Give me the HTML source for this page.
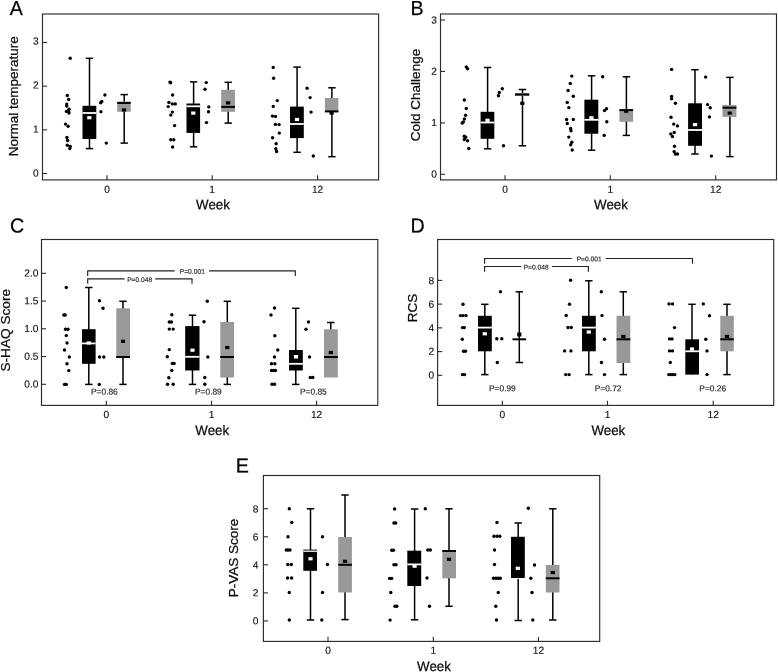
<!DOCTYPE html>
<html><head><meta charset="utf-8"><title>Figure</title>
<style>
html,body{margin:0;padding:0;background:#fff;}
body{width:778px;height:672px;overflow:hidden;}
svg{display:block;font-family:"Liberation Sans", sans-serif;will-change:transform;}
svg text{stroke:#111;stroke-width:0.25px;}
</style></head>
<body>
<svg width="778" height="672" viewBox="0 0 778 672">
<rect width="778" height="672" fill="#fff"/>
<text transform="translate(9.80,15.00) rotate(0.03) scale(0.97,1)" font-size="20.3" text-anchor="start" fill="#000">A</text>
<rect x="42.5" y="14.0" width="336.10" height="165.90" fill="none" stroke="#2b2b2b" stroke-width="1.15"/>
<line x1="42.5" y1="42.45" x2="47.1" y2="42.45" stroke="#2b2b2b" stroke-width="1.1"/>
<text transform="translate(35.95,44.50) rotate(0.03) scale(1.0,1)" font-size="10.2" text-anchor="middle" fill="#0a0a0a" style="stroke-width:0.12px">3</text>
<line x1="42.5" y1="86.15" x2="47.1" y2="86.15" stroke="#2b2b2b" stroke-width="1.1"/>
<text transform="translate(35.95,88.50) rotate(0.03) scale(1.0,1)" font-size="10.2" text-anchor="middle" fill="#0a0a0a" style="stroke-width:0.12px">2</text>
<line x1="42.5" y1="129.85" x2="47.1" y2="129.85" stroke="#2b2b2b" stroke-width="1.1"/>
<text transform="translate(35.95,132.60) rotate(0.03) scale(1.0,1)" font-size="10.2" text-anchor="middle" fill="#0a0a0a" style="stroke-width:0.12px">1</text>
<line x1="42.5" y1="173.5" x2="47.1" y2="173.5" stroke="#2b2b2b" stroke-width="1.1"/>
<text transform="translate(35.95,176.60) rotate(0.03) scale(1.0,1)" font-size="10.2" text-anchor="middle" fill="#0a0a0a" style="stroke-width:0.12px">0</text>
<line x1="107.0" y1="179.9" x2="107.0" y2="175.3" stroke="#2b2b2b" stroke-width="1.1"/>
<text transform="translate(107.00,192.70) rotate(0.03) scale(1.0,1)" font-size="10.2" text-anchor="middle" fill="#0a0a0a" style="stroke-width:0.12px">0</text>
<line x1="212.2" y1="179.9" x2="212.2" y2="175.3" stroke="#2b2b2b" stroke-width="1.1"/>
<text transform="translate(212.20,192.70) rotate(0.03) scale(1.0,1)" font-size="10.2" text-anchor="middle" fill="#0a0a0a" style="stroke-width:0.12px">1</text>
<line x1="317.6" y1="179.9" x2="317.6" y2="175.3" stroke="#2b2b2b" stroke-width="1.1"/>
<text transform="translate(317.60,192.70) rotate(0.03) scale(1.0,1)" font-size="10.2" text-anchor="middle" fill="#0a0a0a" style="stroke-width:0.12px">12</text>
<text transform="translate(13.2,96.2) rotate(-90)" font-size="13.5" text-anchor="middle" fill="#0a0a0a" y="4.86">Normal temperature</text>
<text transform="translate(213.00,209.30) rotate(0.03) scale(0.965,1)" font-size="13.8" text-anchor="middle" fill="#0a0a0a">Week</text>
<circle cx="70.2" cy="58.2" r="1.7" fill="#000"/>
<circle cx="67.3" cy="95.5" r="1.7" fill="#000"/>
<circle cx="68.6" cy="99.5" r="1.7" fill="#000"/>
<circle cx="66.7" cy="104.1" r="1.7" fill="#000"/>
<circle cx="66.7" cy="106.1" r="1.7" fill="#000"/>
<circle cx="69" cy="109.2" r="1.7" fill="#000"/>
<circle cx="66.4" cy="111.4" r="1.7" fill="#000"/>
<circle cx="68.6" cy="111.4" r="1.7" fill="#000"/>
<circle cx="69" cy="113" r="1.7" fill="#000"/>
<circle cx="65.5" cy="124.1" r="1.7" fill="#000"/>
<circle cx="68.1" cy="126.3" r="1.7" fill="#000"/>
<circle cx="66.9" cy="137.5" r="1.7" fill="#000"/>
<circle cx="67.6" cy="140.5" r="1.7" fill="#000"/>
<circle cx="67.3" cy="145.2" r="1.7" fill="#000"/>
<circle cx="70.3" cy="146.4" r="1.7" fill="#000"/>
<circle cx="69.8" cy="148.6" r="1.7" fill="#000"/>
<line x1="89.5" y1="58.3" x2="89.5" y2="148.6" stroke="#000" stroke-width="1.5"/>
<line x1="85.8" y1="58.3" x2="93.2" y2="58.3" stroke="#000" stroke-width="1.5"/>
<line x1="85.8" y1="148.6" x2="93.2" y2="148.6" stroke="#000" stroke-width="1.5"/>
<rect x="82.5" y="105.8" width="13.799999999999997" height="33.2" fill="#000"/>
<line x1="82.5" y1="113" x2="96.3" y2="113" stroke="#fff" stroke-width="1.8"/>
<rect x="87.2" y="116.10000000000001" width="4.2" height="3.2" fill="#fff"/>
<circle cx="104.9" cy="95" r="1.7" fill="#000"/>
<circle cx="101.8" cy="101.4" r="1.7" fill="#000"/>
<circle cx="100.7" cy="102.7" r="1.7" fill="#000"/>
<circle cx="100.9" cy="111.8" r="1.7" fill="#000"/>
<circle cx="106.3" cy="143.1" r="1.7" fill="#000"/>
<line x1="124.2" y1="94.6" x2="124.2" y2="143.1" stroke="#000" stroke-width="1.5"/>
<line x1="120.5" y1="94.6" x2="127.9" y2="94.6" stroke="#000" stroke-width="1.5"/>
<line x1="120.5" y1="143.1" x2="127.9" y2="143.1" stroke="#000" stroke-width="1.5"/>
<rect x="117.2" y="101.5" width="13.499999999999986" height="10.299999999999997" fill="#999999"/>
<line x1="117.2" y1="103" x2="130.7" y2="103" stroke="#000" stroke-width="2.0"/>
<rect x="121.9" y="108.4" width="4.2" height="3.2" fill="#000"/>
<circle cx="169.9" cy="82.1" r="1.7" fill="#000"/>
<circle cx="170.6" cy="82.7" r="1.7" fill="#000"/>
<circle cx="172.6" cy="95" r="1.7" fill="#000"/>
<circle cx="168.9" cy="102.4" r="1.7" fill="#000"/>
<circle cx="172.3" cy="103.9" r="1.7" fill="#000"/>
<circle cx="175.3" cy="103.9" r="1.7" fill="#000"/>
<circle cx="168.2" cy="106.6" r="1.7" fill="#000"/>
<circle cx="172.3" cy="112.1" r="1.7" fill="#000"/>
<circle cx="170.8" cy="115.1" r="1.7" fill="#000"/>
<circle cx="174.6" cy="125.6" r="1.7" fill="#000"/>
<circle cx="170.8" cy="139.8" r="1.7" fill="#000"/>
<circle cx="173.8" cy="139.8" r="1.7" fill="#000"/>
<circle cx="172.6" cy="147" r="1.7" fill="#000"/>
<line x1="193.6" y1="81.9" x2="193.6" y2="146.8" stroke="#000" stroke-width="1.5"/>
<line x1="189.9" y1="81.9" x2="197.29999999999998" y2="81.9" stroke="#000" stroke-width="1.5"/>
<line x1="189.9" y1="146.8" x2="197.29999999999998" y2="146.8" stroke="#000" stroke-width="1.5"/>
<rect x="186.5" y="103.5" width="13.599999999999994" height="29.400000000000006" fill="#000"/>
<line x1="186.5" y1="106.3" x2="200.1" y2="106.3" stroke="#fff" stroke-width="1.8"/>
<rect x="191.20000000000002" y="111.5" width="4.2" height="3.2" fill="#fff"/>
<circle cx="206.3" cy="82.6" r="1.7" fill="#000"/>
<circle cx="205" cy="89.3" r="1.7" fill="#000"/>
<circle cx="208.8" cy="106.9" r="1.7" fill="#000"/>
<circle cx="208.5" cy="111.8" r="1.7" fill="#000"/>
<circle cx="206.5" cy="122.6" r="1.7" fill="#000"/>
<line x1="228.2" y1="82.3" x2="228.2" y2="123.1" stroke="#000" stroke-width="1.5"/>
<line x1="224.5" y1="82.3" x2="231.89999999999998" y2="82.3" stroke="#000" stroke-width="1.5"/>
<line x1="224.5" y1="123.1" x2="231.89999999999998" y2="123.1" stroke="#000" stroke-width="1.5"/>
<rect x="221.2" y="89.8" width="13.800000000000011" height="22.0" fill="#999999"/>
<line x1="221.2" y1="106.9" x2="235" y2="106.9" stroke="#000" stroke-width="2.0"/>
<rect x="226.0" y="101.30000000000001" width="4.2" height="3.2" fill="#000"/>
<circle cx="273.2" cy="67.4" r="1.7" fill="#000"/>
<circle cx="273.6" cy="78.2" r="1.7" fill="#000"/>
<circle cx="277.3" cy="100.6" r="1.7" fill="#000"/>
<circle cx="273.3" cy="106.4" r="1.7" fill="#000"/>
<circle cx="272.4" cy="116.1" r="1.7" fill="#000"/>
<circle cx="275.5" cy="116.4" r="1.7" fill="#000"/>
<circle cx="275.4" cy="124.4" r="1.7" fill="#000"/>
<circle cx="279.1" cy="124.6" r="1.7" fill="#000"/>
<circle cx="279.3" cy="133.1" r="1.7" fill="#000"/>
<circle cx="272.6" cy="137.7" r="1.7" fill="#000"/>
<circle cx="276.1" cy="143.8" r="1.7" fill="#000"/>
<circle cx="275.8" cy="148.8" r="1.7" fill="#000"/>
<circle cx="276.6" cy="151.5" r="1.7" fill="#000"/>
<line x1="297.1" y1="67.1" x2="297.1" y2="152.3" stroke="#000" stroke-width="1.5"/>
<line x1="293.40000000000003" y1="67.1" x2="300.8" y2="67.1" stroke="#000" stroke-width="1.5"/>
<line x1="293.40000000000003" y1="152.3" x2="300.8" y2="152.3" stroke="#000" stroke-width="1.5"/>
<rect x="290" y="106.6" width="13.800000000000011" height="31.5" fill="#000"/>
<line x1="290" y1="124" x2="303.8" y2="124" stroke="#fff" stroke-width="1.8"/>
<rect x="294.9" y="117.9" width="4.2" height="3.2" fill="#fff"/>
<circle cx="307.1" cy="88.3" r="1.7" fill="#000"/>
<circle cx="310.1" cy="97.6" r="1.7" fill="#000"/>
<circle cx="311.1" cy="112.1" r="1.7" fill="#000"/>
<circle cx="313.3" cy="156" r="1.7" fill="#000"/>
<line x1="331.9" y1="87.8" x2="331.9" y2="156.7" stroke="#000" stroke-width="1.5"/>
<line x1="328.2" y1="87.8" x2="335.59999999999997" y2="87.8" stroke="#000" stroke-width="1.5"/>
<line x1="328.2" y1="156.7" x2="335.59999999999997" y2="156.7" stroke="#000" stroke-width="1.5"/>
<rect x="324.9" y="97.9" width="13.5" height="14.199999999999989" fill="#999999"/>
<line x1="324.9" y1="111.4" x2="338.4" y2="111.4" stroke="#000" stroke-width="2.0"/>
<rect x="329.5" y="111.5" width="4.2" height="3.2" fill="#000"/>
<text transform="translate(410.50,15.00) rotate(0.03) scale(0.97,1)" font-size="20.3" text-anchor="start" fill="#000">B</text>
<rect x="440.5" y="14.0" width="336.00" height="165.90" fill="none" stroke="#2b2b2b" stroke-width="1.15"/>
<line x1="440.5" y1="20.0" x2="445.1" y2="20.0" stroke="#2b2b2b" stroke-width="1.1"/>
<text transform="translate(434.00,23.50) rotate(0.03) scale(1.0,1)" font-size="10.2" text-anchor="middle" fill="#0a0a0a" style="stroke-width:0.12px">3</text>
<line x1="440.5" y1="71.4" x2="445.1" y2="71.4" stroke="#2b2b2b" stroke-width="1.1"/>
<text transform="translate(434.00,74.80) rotate(0.03) scale(1.0,1)" font-size="10.2" text-anchor="middle" fill="#0a0a0a" style="stroke-width:0.12px">2</text>
<line x1="440.5" y1="122.9" x2="445.1" y2="122.9" stroke="#2b2b2b" stroke-width="1.1"/>
<text transform="translate(434.00,126.10) rotate(0.03) scale(1.0,1)" font-size="10.2" text-anchor="middle" fill="#0a0a0a" style="stroke-width:0.12px">1</text>
<line x1="440.5" y1="174.3" x2="445.1" y2="174.3" stroke="#2b2b2b" stroke-width="1.1"/>
<text transform="translate(434.00,177.40) rotate(0.03) scale(1.0,1)" font-size="10.2" text-anchor="middle" fill="#0a0a0a" style="stroke-width:0.12px">0</text>
<line x1="505" y1="179.9" x2="505" y2="175.3" stroke="#2b2b2b" stroke-width="1.1"/>
<text transform="translate(505.00,192.70) rotate(0.03) scale(1.0,1)" font-size="10.2" text-anchor="middle" fill="#0a0a0a" style="stroke-width:0.12px">0</text>
<line x1="610.3" y1="179.9" x2="610.3" y2="175.3" stroke="#2b2b2b" stroke-width="1.1"/>
<text transform="translate(610.30,192.70) rotate(0.03) scale(1.0,1)" font-size="10.2" text-anchor="middle" fill="#0a0a0a" style="stroke-width:0.12px">1</text>
<line x1="715.7" y1="179.9" x2="715.7" y2="175.3" stroke="#2b2b2b" stroke-width="1.1"/>
<text transform="translate(715.70,192.70) rotate(0.03) scale(1.0,1)" font-size="10.2" text-anchor="middle" fill="#0a0a0a" style="stroke-width:0.12px">12</text>
<text transform="translate(414.8,95) rotate(-90)" font-size="13.5" text-anchor="middle" fill="#0a0a0a" y="4.86">Cold Challenge</text>
<text transform="translate(611.00,209.30) rotate(0.03) scale(0.965,1)" font-size="13.8" text-anchor="middle" fill="#0a0a0a">Week</text>
<circle cx="466.3" cy="67" r="1.7" fill="#000"/>
<circle cx="467.6" cy="68.8" r="1.7" fill="#000"/>
<circle cx="464.3" cy="100" r="1.7" fill="#000"/>
<circle cx="466.3" cy="108.5" r="1.7" fill="#000"/>
<circle cx="465.6" cy="115.2" r="1.7" fill="#000"/>
<circle cx="464.4" cy="119" r="1.7" fill="#000"/>
<circle cx="463.3" cy="122" r="1.7" fill="#000"/>
<circle cx="462.2" cy="123" r="1.7" fill="#000"/>
<circle cx="464.3" cy="136.3" r="1.7" fill="#000"/>
<circle cx="465.7" cy="137.2" r="1.7" fill="#000"/>
<circle cx="464.3" cy="139.5" r="1.7" fill="#000"/>
<circle cx="467.5" cy="140.8" r="1.7" fill="#000"/>
<circle cx="468.8" cy="148.5" r="1.7" fill="#000"/>
<line x1="487.6" y1="67.5" x2="487.6" y2="148.8" stroke="#000" stroke-width="1.5"/>
<line x1="483.90000000000003" y1="67.5" x2="491.3" y2="67.5" stroke="#000" stroke-width="1.5"/>
<line x1="483.90000000000003" y1="148.8" x2="491.3" y2="148.8" stroke="#000" stroke-width="1.5"/>
<rect x="480.6" y="111.8" width="13.699999999999989" height="27.000000000000014" fill="#000"/>
<line x1="480.6" y1="122.5" x2="494.3" y2="122.5" stroke="#fff" stroke-width="1.8"/>
<rect x="485.4" y="118.7" width="4.2" height="3.2" fill="#fff"/>
<circle cx="502.3" cy="88.8" r="1.7" fill="#000"/>
<circle cx="499.3" cy="92.5" r="1.7" fill="#000"/>
<circle cx="498.5" cy="95.8" r="1.7" fill="#000"/>
<circle cx="503.5" cy="145.8" r="1.7" fill="#000"/>
<line x1="522.5" y1="89.5" x2="522.5" y2="145.8" stroke="#000" stroke-width="1.5"/>
<line x1="518.8" y1="89.5" x2="526.2" y2="89.5" stroke="#000" stroke-width="1.5"/>
<line x1="518.8" y1="145.8" x2="526.2" y2="145.8" stroke="#000" stroke-width="1.5"/>
<rect x="515" y="93" width="14.200000000000045" height="3" fill="#999999"/>
<line x1="515" y1="94.5" x2="529.2" y2="94.5" stroke="#000" stroke-width="2.0"/>
<rect x="520.1999999999999" y="101.7" width="4.2" height="3.2" fill="#000"/>
<circle cx="571.8" cy="76.1" r="1.7" fill="#000"/>
<circle cx="570.3" cy="83.4" r="1.7" fill="#000"/>
<circle cx="568.1" cy="90.5" r="1.7" fill="#000"/>
<circle cx="573.3" cy="96.2" r="1.7" fill="#000"/>
<circle cx="567.3" cy="102.4" r="1.7" fill="#000"/>
<circle cx="568.8" cy="107.6" r="1.7" fill="#000"/>
<circle cx="566.6" cy="119.5" r="1.7" fill="#000"/>
<circle cx="573.3" cy="119.5" r="1.7" fill="#000"/>
<circle cx="567.3" cy="123.5" r="1.7" fill="#000"/>
<circle cx="570.6" cy="128.5" r="1.7" fill="#000"/>
<circle cx="571" cy="130.7" r="1.7" fill="#000"/>
<circle cx="568.8" cy="137.1" r="1.7" fill="#000"/>
<circle cx="571.8" cy="142.3" r="1.7" fill="#000"/>
<circle cx="570.7" cy="144.8" r="1.7" fill="#000"/>
<circle cx="572.2" cy="150" r="1.7" fill="#000"/>
<line x1="591.6" y1="75.8" x2="591.6" y2="150.2" stroke="#000" stroke-width="1.5"/>
<line x1="587.9" y1="75.8" x2="595.3000000000001" y2="75.8" stroke="#000" stroke-width="1.5"/>
<line x1="587.9" y1="150.2" x2="595.3000000000001" y2="150.2" stroke="#000" stroke-width="1.5"/>
<rect x="584.4" y="99.7" width="13.899999999999977" height="33.999999999999986" fill="#000"/>
<line x1="584.4" y1="119.8" x2="598.3" y2="119.8" stroke="#fff" stroke-width="1.8"/>
<rect x="589.3" y="116.2" width="4.2" height="3.2" fill="#fff"/>
<circle cx="602.7" cy="76.7" r="1.7" fill="#000"/>
<circle cx="606.5" cy="108.7" r="1.7" fill="#000"/>
<circle cx="604.5" cy="110.6" r="1.7" fill="#000"/>
<circle cx="606.8" cy="121.8" r="1.7" fill="#000"/>
<circle cx="604.2" cy="135.4" r="1.7" fill="#000"/>
<line x1="626.4" y1="76.8" x2="626.4" y2="135.4" stroke="#000" stroke-width="1.5"/>
<line x1="622.6999999999999" y1="76.8" x2="630.1" y2="76.8" stroke="#000" stroke-width="1.5"/>
<line x1="622.6999999999999" y1="135.4" x2="630.1" y2="135.4" stroke="#000" stroke-width="1.5"/>
<rect x="619.4" y="109.1" width="13.700000000000045" height="12.700000000000003" fill="#999999"/>
<line x1="619.4" y1="110.1" x2="633.1" y2="110.1" stroke="#000" stroke-width="2.0"/>
<rect x="624.0" y="109.60000000000001" width="4.2" height="3.2" fill="#000"/>
<circle cx="671.6" cy="69.4" r="1.7" fill="#000"/>
<circle cx="671.6" cy="96.4" r="1.7" fill="#000"/>
<circle cx="671.6" cy="98.7" r="1.7" fill="#000"/>
<circle cx="675.4" cy="103.3" r="1.7" fill="#000"/>
<circle cx="671" cy="117.2" r="1.7" fill="#000"/>
<circle cx="673.7" cy="124.1" r="1.7" fill="#000"/>
<circle cx="677.5" cy="125.9" r="1.7" fill="#000"/>
<circle cx="674.2" cy="132.4" r="1.7" fill="#000"/>
<circle cx="670.8" cy="133.9" r="1.7" fill="#000"/>
<circle cx="672.4" cy="136.5" r="1.7" fill="#000"/>
<circle cx="674.5" cy="146.2" r="1.7" fill="#000"/>
<circle cx="674.1" cy="151.6" r="1.7" fill="#000"/>
<circle cx="675.4" cy="154" r="1.7" fill="#000"/>
<circle cx="677.5" cy="154" r="1.7" fill="#000"/>
<line x1="695" y1="69.7" x2="695" y2="154" stroke="#000" stroke-width="1.5"/>
<line x1="691.3" y1="69.7" x2="698.7" y2="69.7" stroke="#000" stroke-width="1.5"/>
<line x1="691.3" y1="154" x2="698.7" y2="154" stroke="#000" stroke-width="1.5"/>
<rect x="688.1" y="103.3" width="13.899999999999977" height="42.500000000000014" fill="#000"/>
<line x1="688.1" y1="130" x2="702" y2="130" stroke="#fff" stroke-width="1.8"/>
<rect x="692.9" y="123.0" width="4.2" height="3.2" fill="#fff"/>
<circle cx="705.6" cy="77.1" r="1.7" fill="#000"/>
<circle cx="707.6" cy="104.6" r="1.7" fill="#000"/>
<circle cx="710.2" cy="107.7" r="1.7" fill="#000"/>
<circle cx="709.4" cy="116.9" r="1.7" fill="#000"/>
<circle cx="711.4" cy="156.1" r="1.7" fill="#000"/>
<line x1="729.9" y1="77.4" x2="729.9" y2="156.6" stroke="#000" stroke-width="1.5"/>
<line x1="726.1999999999999" y1="77.4" x2="733.6" y2="77.4" stroke="#000" stroke-width="1.5"/>
<line x1="726.1999999999999" y1="156.6" x2="733.6" y2="156.6" stroke="#000" stroke-width="1.5"/>
<rect x="722.5" y="104.9" width="13.899999999999977" height="12.0" fill="#999999"/>
<line x1="722.5" y1="107.7" x2="736.4" y2="107.7" stroke="#000" stroke-width="2.0"/>
<rect x="727.6" y="111.5" width="4.2" height="3.2" fill="#000"/>
<text transform="translate(10.10,232.60) rotate(0.03) scale(0.97,1)" font-size="20.3" text-anchor="start" fill="#000">C</text>
<rect x="41.5" y="239.5" width="336.30" height="165.90" fill="none" stroke="#2b2b2b" stroke-width="1.15"/>
<line x1="41.5" y1="273.3" x2="46.1" y2="273.3" stroke="#2b2b2b" stroke-width="1.1"/>
<text transform="translate(38.40,276.50) rotate(0.03) scale(1.0,1)" font-size="10.2" text-anchor="end" fill="#0a0a0a" style="stroke-width:0.12px">2.0</text>
<line x1="41.5" y1="301.05" x2="46.1" y2="301.05" stroke="#2b2b2b" stroke-width="1.1"/>
<text transform="translate(38.40,304.25) rotate(0.03) scale(1.0,1)" font-size="10.2" text-anchor="end" fill="#0a0a0a" style="stroke-width:0.12px">1.5</text>
<line x1="41.5" y1="328.8" x2="46.1" y2="328.8" stroke="#2b2b2b" stroke-width="1.1"/>
<text transform="translate(38.40,332.00) rotate(0.03) scale(1.0,1)" font-size="10.2" text-anchor="end" fill="#0a0a0a" style="stroke-width:0.12px">1.0</text>
<line x1="41.5" y1="356.55" x2="46.1" y2="356.55" stroke="#2b2b2b" stroke-width="1.1"/>
<text transform="translate(38.40,359.75) rotate(0.03) scale(1.0,1)" font-size="10.2" text-anchor="end" fill="#0a0a0a" style="stroke-width:0.12px">0.5</text>
<line x1="41.5" y1="384.3" x2="46.1" y2="384.3" stroke="#2b2b2b" stroke-width="1.1"/>
<text transform="translate(38.40,387.50) rotate(0.03) scale(1.0,1)" font-size="10.2" text-anchor="end" fill="#0a0a0a" style="stroke-width:0.12px">0.0</text>
<line x1="106.3" y1="405.4" x2="106.3" y2="400.79999999999995" stroke="#2b2b2b" stroke-width="1.1"/>
<text transform="translate(106.30,417.90) rotate(0.03) scale(1.0,1)" font-size="10.2" text-anchor="middle" fill="#0a0a0a" style="stroke-width:0.12px">0</text>
<line x1="211.5" y1="405.4" x2="211.5" y2="400.79999999999995" stroke="#2b2b2b" stroke-width="1.1"/>
<text transform="translate(211.50,417.90) rotate(0.03) scale(1.0,1)" font-size="10.2" text-anchor="middle" fill="#0a0a0a" style="stroke-width:0.12px">1</text>
<line x1="316.6" y1="405.4" x2="316.6" y2="400.79999999999995" stroke="#2b2b2b" stroke-width="1.1"/>
<text transform="translate(316.60,417.90) rotate(0.03) scale(1.0,1)" font-size="10.2" text-anchor="middle" fill="#0a0a0a" style="stroke-width:0.12px">12</text>
<text transform="translate(5.4,330.3) rotate(-90)" font-size="13.65" text-anchor="middle" fill="#0a0a0a" y="4.91">S-HAQ Score</text>
<text transform="translate(212.20,435.00) rotate(0.03) scale(0.965,1)" font-size="13.8" text-anchor="middle" fill="#0a0a0a">Week</text>
<line x1="87.2" y1="270.9" x2="174.7" y2="270.9" stroke="#222" stroke-width="1.15"/>
<line x1="87.7" y1="270.9" x2="87.7" y2="275.9" stroke="#222" stroke-width="1.15"/>
<text transform="translate(192.30,273.70) rotate(0.03) scale(1.0,1)" font-size="6.7" text-anchor="middle" fill="#2a2a2a" style="stroke-width:0.18px;stroke:#2a2a2a">P=0.001</text>
<line x1="209" y1="270.9" x2="295.8" y2="270.9" stroke="#222" stroke-width="1.15"/>
<line x1="295.3" y1="270.9" x2="295.3" y2="275.9" stroke="#222" stroke-width="1.15"/>
<line x1="87.2" y1="278.9" x2="124.6" y2="278.9" stroke="#222" stroke-width="1.15"/>
<line x1="87.7" y1="278.9" x2="87.7" y2="283.8" stroke="#222" stroke-width="1.15"/>
<text transform="translate(139.70,281.90) rotate(0.03) scale(1.0,1)" font-size="6.7" text-anchor="middle" fill="#2a2a2a" style="stroke-width:0.18px;stroke:#2a2a2a">P=0.048</text>
<line x1="155.2" y1="278.9" x2="192.5" y2="278.9" stroke="#222" stroke-width="1.15"/>
<line x1="192" y1="278.9" x2="192" y2="283.8" stroke="#222" stroke-width="1.15"/>
<text transform="translate(91.00,394.60) rotate(0.03) scale(1.0,1)" font-size="8.4" text-anchor="start" fill="#2a2a2a" style="stroke-width:0.18px;stroke:#2a2a2a">P=0.86</text>
<text transform="translate(195.00,394.60) rotate(0.03) scale(1.0,1)" font-size="8.4" text-anchor="start" fill="#2a2a2a" style="stroke-width:0.18px;stroke:#2a2a2a">P=0.89</text>
<text transform="translate(300.00,394.60) rotate(0.03) scale(1.0,1)" font-size="8.4" text-anchor="start" fill="#2a2a2a" style="stroke-width:0.18px;stroke:#2a2a2a">P=0.85</text>
<circle cx="66.3" cy="287.5" r="1.7" fill="#000"/>
<circle cx="63.8" cy="315" r="1.7" fill="#000"/>
<circle cx="65.2" cy="315" r="1.7" fill="#000"/>
<circle cx="65.5" cy="329.2" r="1.7" fill="#000"/>
<circle cx="68" cy="329.2" r="1.7" fill="#000"/>
<circle cx="66.3" cy="335.6" r="1.7" fill="#000"/>
<circle cx="67" cy="343" r="1.7" fill="#000"/>
<circle cx="64.5" cy="350" r="1.7" fill="#000"/>
<circle cx="69.3" cy="357" r="1.7" fill="#000"/>
<circle cx="67" cy="363.8" r="1.7" fill="#000"/>
<circle cx="68.8" cy="370.6" r="1.7" fill="#000"/>
<circle cx="64.5" cy="384.4" r="1.7" fill="#000"/>
<circle cx="66.3" cy="384.4" r="1.7" fill="#000"/>
<line x1="88.8" y1="287.5" x2="88.8" y2="384.4" stroke="#000" stroke-width="1.5"/>
<line x1="85.1" y1="287.5" x2="92.5" y2="287.5" stroke="#000" stroke-width="1.5"/>
<line x1="85.1" y1="384.4" x2="92.5" y2="384.4" stroke="#000" stroke-width="1.5"/>
<rect x="82" y="329.2" width="13.599999999999994" height="34.60000000000002" fill="#000"/>
<line x1="82" y1="343.4" x2="95.6" y2="343.4" stroke="#fff" stroke-width="1.8"/>
<rect x="86.7" y="341.4" width="4.2" height="3.2" fill="#fff"/>
<circle cx="99.5" cy="300.8" r="1.7" fill="#000"/>
<circle cx="103" cy="308.3" r="1.7" fill="#000"/>
<circle cx="99.5" cy="357" r="1.7" fill="#000"/>
<circle cx="103.8" cy="357" r="1.7" fill="#000"/>
<circle cx="99.3" cy="384.4" r="1.7" fill="#000"/>
<line x1="123" y1="301.3" x2="123" y2="384.4" stroke="#000" stroke-width="1.5"/>
<line x1="119.3" y1="301.3" x2="126.7" y2="301.3" stroke="#000" stroke-width="1.5"/>
<line x1="119.3" y1="384.4" x2="126.7" y2="384.4" stroke="#000" stroke-width="1.5"/>
<rect x="116.3" y="308.3" width="13.700000000000003" height="49.5" fill="#999999"/>
<line x1="116.3" y1="357" x2="130" y2="357" stroke="#000" stroke-width="2.0"/>
<rect x="120.9" y="339.7" width="4.2" height="3.2" fill="#000"/>
<circle cx="171.8" cy="314.8" r="1.7" fill="#000"/>
<circle cx="169.3" cy="322" r="1.7" fill="#000"/>
<circle cx="171.4" cy="322" r="1.7" fill="#000"/>
<circle cx="169.3" cy="329.1" r="1.7" fill="#000"/>
<circle cx="173.2" cy="329.1" r="1.7" fill="#000"/>
<circle cx="169.3" cy="349.6" r="1.7" fill="#000"/>
<circle cx="167.3" cy="356.8" r="1.7" fill="#000"/>
<circle cx="172.3" cy="363.4" r="1.7" fill="#000"/>
<circle cx="174.1" cy="363.4" r="1.7" fill="#000"/>
<circle cx="171.8" cy="370.5" r="1.7" fill="#000"/>
<circle cx="168.8" cy="377.7" r="1.7" fill="#000"/>
<circle cx="167.5" cy="384.3" r="1.7" fill="#000"/>
<circle cx="173.2" cy="384.3" r="1.7" fill="#000"/>
<line x1="192.5" y1="315.2" x2="192.5" y2="384.4" stroke="#000" stroke-width="1.5"/>
<line x1="188.8" y1="315.2" x2="196.2" y2="315.2" stroke="#000" stroke-width="1.5"/>
<line x1="188.8" y1="384.4" x2="196.2" y2="384.4" stroke="#000" stroke-width="1.5"/>
<rect x="185.2" y="326.1" width="14.300000000000011" height="44.39999999999998" fill="#000"/>
<line x1="185.2" y1="356.8" x2="199.5" y2="356.8" stroke="#fff" stroke-width="1.8"/>
<rect x="190.4" y="348.59999999999997" width="4.2" height="3.2" fill="#fff"/>
<circle cx="207.3" cy="301.3" r="1.7" fill="#000"/>
<circle cx="204" cy="321.8" r="1.7" fill="#000"/>
<circle cx="207.8" cy="357" r="1.7" fill="#000"/>
<circle cx="204.8" cy="377.5" r="1.7" fill="#000"/>
<circle cx="204.8" cy="384.3" r="1.7" fill="#000"/>
<line x1="227.3" y1="301.3" x2="227.3" y2="384.4" stroke="#000" stroke-width="1.5"/>
<line x1="223.60000000000002" y1="301.3" x2="231.0" y2="301.3" stroke="#000" stroke-width="1.5"/>
<line x1="223.60000000000002" y1="384.4" x2="231.0" y2="384.4" stroke="#000" stroke-width="1.5"/>
<rect x="220.3" y="322" width="13.699999999999989" height="55.5" fill="#999999"/>
<line x1="220.3" y1="357" x2="234" y2="357" stroke="#000" stroke-width="2.0"/>
<rect x="225.20000000000002" y="345.9" width="4.2" height="3.2" fill="#000"/>
<circle cx="274.5" cy="308" r="1.7" fill="#000"/>
<circle cx="271" cy="315" r="1.7" fill="#000"/>
<circle cx="274.8" cy="335.8" r="1.7" fill="#000"/>
<circle cx="277.8" cy="350" r="1.7" fill="#000"/>
<circle cx="274.5" cy="357" r="1.7" fill="#000"/>
<circle cx="271.5" cy="363.8" r="1.7" fill="#000"/>
<circle cx="274.8" cy="363.8" r="1.7" fill="#000"/>
<circle cx="271.5" cy="370.5" r="1.7" fill="#000"/>
<circle cx="273.5" cy="370.5" r="1.7" fill="#000"/>
<circle cx="275.5" cy="370.5" r="1.7" fill="#000"/>
<circle cx="272" cy="384.3" r="1.7" fill="#000"/>
<circle cx="274.5" cy="384.3" r="1.7" fill="#000"/>
<line x1="295.8" y1="308.3" x2="295.8" y2="384.4" stroke="#000" stroke-width="1.5"/>
<line x1="292.1" y1="308.3" x2="299.5" y2="308.3" stroke="#000" stroke-width="1.5"/>
<line x1="292.1" y1="384.4" x2="299.5" y2="384.4" stroke="#000" stroke-width="1.5"/>
<rect x="289" y="350" width="13.800000000000011" height="20.5" fill="#000"/>
<line x1="289" y1="363.8" x2="302.8" y2="363.8" stroke="#fff" stroke-width="1.8"/>
<rect x="293.9" y="355.0" width="4.2" height="3.6" fill="#fff"/>
<circle cx="308.5" cy="322" r="1.7" fill="#000"/>
<circle cx="306" cy="329.3" r="1.7" fill="#000"/>
<circle cx="309.5" cy="357" r="1.7" fill="#000"/>
<circle cx="310.3" cy="377.5" r="1.7" fill="#000"/>
<circle cx="312.8" cy="377.5" r="1.7" fill="#000"/>
<line x1="330.8" y1="322.5" x2="330.8" y2="377.0" stroke="#000" stroke-width="1.5"/>
<line x1="327.1" y1="322.5" x2="334.5" y2="322.5" stroke="#000" stroke-width="1.5"/>
<rect x="324" y="329.3" width="13.800000000000011" height="48.19999999999999" fill="#999999"/>
<line x1="324" y1="357" x2="337.8" y2="357" stroke="#000" stroke-width="2.0"/>
<rect x="328.7" y="350.9" width="4.2" height="3.2" fill="#000"/>
<text transform="translate(410.50,232.60) rotate(0.03) scale(0.97,1)" font-size="20.3" text-anchor="start" fill="#000">D</text>
<rect x="437.6" y="239.5" width="336.10" height="165.90" fill="none" stroke="#2b2b2b" stroke-width="1.15"/>
<line x1="437.6" y1="280.4" x2="442.20000000000005" y2="280.4" stroke="#2b2b2b" stroke-width="1.1"/>
<text transform="translate(431.30,284.20) rotate(0.03) scale(1.0,1)" font-size="10.2" text-anchor="middle" fill="#0a0a0a" style="stroke-width:0.12px">8</text>
<line x1="437.6" y1="304.1" x2="442.20000000000005" y2="304.1" stroke="#2b2b2b" stroke-width="1.1"/>
<text transform="translate(431.30,307.75) rotate(0.03) scale(1.0,1)" font-size="10.2" text-anchor="middle" fill="#0a0a0a" style="stroke-width:0.12px">6</text>
<line x1="437.6" y1="327.85" x2="442.20000000000005" y2="327.85" stroke="#2b2b2b" stroke-width="1.1"/>
<text transform="translate(431.30,331.30) rotate(0.03) scale(1.0,1)" font-size="10.2" text-anchor="middle" fill="#0a0a0a" style="stroke-width:0.12px">4</text>
<line x1="437.6" y1="351.6" x2="442.20000000000005" y2="351.6" stroke="#2b2b2b" stroke-width="1.1"/>
<text transform="translate(431.30,354.85) rotate(0.03) scale(1.0,1)" font-size="10.2" text-anchor="middle" fill="#0a0a0a" style="stroke-width:0.12px">2</text>
<line x1="437.6" y1="375.3" x2="442.20000000000005" y2="375.3" stroke="#2b2b2b" stroke-width="1.1"/>
<text transform="translate(431.30,378.40) rotate(0.03) scale(1.0,1)" font-size="10.2" text-anchor="middle" fill="#0a0a0a" style="stroke-width:0.12px">0</text>
<line x1="502.3" y1="405.4" x2="502.3" y2="400.79999999999995" stroke="#2b2b2b" stroke-width="1.1"/>
<text transform="translate(502.30,417.90) rotate(0.03) scale(1.0,1)" font-size="10.2" text-anchor="middle" fill="#0a0a0a" style="stroke-width:0.12px">0</text>
<line x1="607.5" y1="405.4" x2="607.5" y2="400.79999999999995" stroke="#2b2b2b" stroke-width="1.1"/>
<text transform="translate(607.50,417.90) rotate(0.03) scale(1.0,1)" font-size="10.2" text-anchor="middle" fill="#0a0a0a" style="stroke-width:0.12px">1</text>
<line x1="713.2" y1="405.4" x2="713.2" y2="400.79999999999995" stroke="#2b2b2b" stroke-width="1.1"/>
<text transform="translate(713.20,417.90) rotate(0.03) scale(1.0,1)" font-size="10.2" text-anchor="middle" fill="#0a0a0a" style="stroke-width:0.12px">12</text>
<text transform="translate(412.3,308) rotate(-90)" font-size="13.5" text-anchor="middle" fill="#0a0a0a" y="4.86">RCS</text>
<text transform="translate(608.30,435.10) rotate(0.03) scale(0.965,1)" font-size="13.8" text-anchor="middle" fill="#0a0a0a">Week</text>
<line x1="484.1" y1="258.5" x2="571.8" y2="258.5" stroke="#222" stroke-width="1.15"/>
<line x1="484.6" y1="258.5" x2="484.6" y2="263.7" stroke="#222" stroke-width="1.15"/>
<text transform="translate(589.20,261.30) rotate(0.03) scale(1.0,1)" font-size="6.7" text-anchor="middle" fill="#2a2a2a" style="stroke-width:0.18px;stroke:#2a2a2a">P=0.001</text>
<line x1="605.8" y1="258.5" x2="693.0" y2="258.5" stroke="#222" stroke-width="1.15"/>
<line x1="692.5" y1="258.5" x2="692.5" y2="263.7" stroke="#222" stroke-width="1.15"/>
<line x1="484.1" y1="266.5" x2="521.3" y2="266.5" stroke="#222" stroke-width="1.15"/>
<line x1="484.6" y1="266.5" x2="484.6" y2="271.8" stroke="#222" stroke-width="1.15"/>
<text transform="translate(536.20,269.40) rotate(0.03) scale(1.0,1)" font-size="6.7" text-anchor="middle" fill="#2a2a2a" style="stroke-width:0.18px;stroke:#2a2a2a">P=0.048</text>
<line x1="552" y1="266.5" x2="588.9" y2="266.5" stroke="#222" stroke-width="1.15"/>
<line x1="588.4" y1="266.5" x2="588.4" y2="271.8" stroke="#222" stroke-width="1.15"/>
<text transform="translate(489.00,391.30) rotate(0.03) scale(1.0,1)" font-size="8.4" text-anchor="start" fill="#2a2a2a" style="stroke-width:0.18px;stroke:#2a2a2a">P=0.99</text>
<text transform="translate(594.70,391.30) rotate(0.03) scale(1.0,1)" font-size="8.4" text-anchor="start" fill="#2a2a2a" style="stroke-width:0.18px;stroke:#2a2a2a">P=0.72</text>
<text transform="translate(699.30,391.30) rotate(0.03) scale(1.0,1)" font-size="8.4" text-anchor="start" fill="#2a2a2a" style="stroke-width:0.18px;stroke:#2a2a2a">P=0.26</text>
<circle cx="463" cy="304.3" r="1.7" fill="#000"/>
<circle cx="460.5" cy="315.6" r="1.7" fill="#000"/>
<circle cx="463" cy="315.6" r="1.7" fill="#000"/>
<circle cx="466" cy="315.6" r="1.7" fill="#000"/>
<circle cx="462.5" cy="327.6" r="1.7" fill="#000"/>
<circle cx="464.3" cy="327.6" r="1.7" fill="#000"/>
<circle cx="462.3" cy="339.3" r="1.7" fill="#000"/>
<circle cx="463.5" cy="351.3" r="1.7" fill="#000"/>
<circle cx="465.5" cy="351.3" r="1.7" fill="#000"/>
<circle cx="462.5" cy="374.6" r="1.7" fill="#000"/>
<circle cx="464.5" cy="374.6" r="1.7" fill="#000"/>
<line x1="484.8" y1="304.3" x2="484.8" y2="374.6" stroke="#000" stroke-width="1.5"/>
<line x1="481.1" y1="304.3" x2="488.5" y2="304.3" stroke="#000" stroke-width="1.5"/>
<line x1="481.1" y1="374.6" x2="488.5" y2="374.6" stroke="#000" stroke-width="1.5"/>
<rect x="478" y="315.8" width="13.800000000000011" height="35.5" fill="#000"/>
<line x1="478" y1="327.6" x2="491.8" y2="327.6" stroke="#fff" stroke-width="1.8"/>
<rect x="482.7" y="332.2" width="4.2" height="3.2" fill="#fff"/>
<circle cx="500.5" cy="291.8" r="1.7" fill="#000"/>
<circle cx="496.8" cy="338.8" r="1.7" fill="#000"/>
<circle cx="501.8" cy="338.8" r="1.7" fill="#000"/>
<circle cx="497.3" cy="362.5" r="1.7" fill="#000"/>
<line x1="519.3" y1="291.8" x2="519.3" y2="362.5" stroke="#000" stroke-width="1.5"/>
<line x1="515.5999999999999" y1="291.8" x2="523.0" y2="291.8" stroke="#000" stroke-width="1.5"/>
<line x1="515.5999999999999" y1="362.5" x2="523.0" y2="362.5" stroke="#000" stroke-width="1.5"/>
<line x1="512.5" y1="339.3" x2="526" y2="339.3" stroke="#000" stroke-width="2.0"/>
<rect x="517.1999999999999" y="332.5" width="4.2" height="4" fill="#000"/>
<circle cx="570.6" cy="280.2" r="1.7" fill="#000"/>
<circle cx="569.5" cy="304.2" r="1.7" fill="#000"/>
<circle cx="566.2" cy="315.5" r="1.7" fill="#000"/>
<circle cx="568" cy="327.5" r="1.7" fill="#000"/>
<circle cx="571.3" cy="327.5" r="1.7" fill="#000"/>
<circle cx="564.6" cy="350.9" r="1.7" fill="#000"/>
<circle cx="570.9" cy="350.9" r="1.7" fill="#000"/>
<circle cx="565.7" cy="374.6" r="1.7" fill="#000"/>
<circle cx="569.1" cy="374.6" r="1.7" fill="#000"/>
<line x1="588.8" y1="280.8" x2="588.8" y2="374.6" stroke="#000" stroke-width="1.5"/>
<line x1="585.0999999999999" y1="280.8" x2="592.5" y2="280.8" stroke="#000" stroke-width="1.5"/>
<line x1="585.0999999999999" y1="374.6" x2="592.5" y2="374.6" stroke="#000" stroke-width="1.5"/>
<rect x="582" y="315.8" width="13.799999999999955" height="35.5" fill="#000"/>
<line x1="582" y1="327.6" x2="595.8" y2="327.6" stroke="#fff" stroke-width="1.8"/>
<rect x="586.6999999999999" y="330.4" width="4.2" height="3.2" fill="#fff"/>
<circle cx="601.3" cy="291.8" r="1.7" fill="#000"/>
<circle cx="602" cy="315.6" r="1.7" fill="#000"/>
<circle cx="604.5" cy="339.3" r="1.7" fill="#000"/>
<circle cx="601.5" cy="362.5" r="1.7" fill="#000"/>
<circle cx="604.5" cy="374.6" r="1.7" fill="#000"/>
<line x1="623.3" y1="291.8" x2="623.3" y2="374.6" stroke="#000" stroke-width="1.5"/>
<line x1="619.5999999999999" y1="291.8" x2="627.0" y2="291.8" stroke="#000" stroke-width="1.5"/>
<line x1="619.5999999999999" y1="374.6" x2="627.0" y2="374.6" stroke="#000" stroke-width="1.5"/>
<rect x="616.5" y="315.8" width="13.799999999999955" height="47.19999999999999" fill="#999999"/>
<line x1="616.5" y1="339.3" x2="630.3" y2="339.3" stroke="#000" stroke-width="2.0"/>
<rect x="621.1999999999999" y="334.9" width="4.2" height="3.2" fill="#000"/>
<circle cx="669" cy="303.9" r="1.7" fill="#000"/>
<circle cx="672.5" cy="303.9" r="1.7" fill="#000"/>
<circle cx="674.5" cy="327.6" r="1.7" fill="#000"/>
<circle cx="669.5" cy="338.9" r="1.7" fill="#000"/>
<circle cx="672" cy="338.9" r="1.7" fill="#000"/>
<circle cx="669.5" cy="350.9" r="1.7" fill="#000"/>
<circle cx="672.5" cy="350.9" r="1.7" fill="#000"/>
<circle cx="670.3" cy="362.5" r="1.7" fill="#000"/>
<circle cx="668.8" cy="374.6" r="1.7" fill="#000"/>
<circle cx="670.8" cy="374.6" r="1.7" fill="#000"/>
<circle cx="672.8" cy="374.6" r="1.7" fill="#000"/>
<circle cx="674.8" cy="374.6" r="1.7" fill="#000"/>
<line x1="692" y1="304.3" x2="692" y2="374.6" stroke="#000" stroke-width="1.5"/>
<line x1="688.3" y1="304.3" x2="695.7" y2="304.3" stroke="#000" stroke-width="1.5"/>
<rect x="685.3" y="339.3" width="13.700000000000045" height="35.30000000000001" fill="#000"/>
<line x1="685.3" y1="351.3" x2="699" y2="351.3" stroke="#fff" stroke-width="1.8"/>
<rect x="689.9" y="347.4" width="4.2" height="3.2" fill="#fff"/>
<circle cx="703.3" cy="303.9" r="1.7" fill="#000"/>
<circle cx="709.5" cy="315.8" r="1.7" fill="#000"/>
<circle cx="705.8" cy="339.3" r="1.7" fill="#000"/>
<circle cx="707" cy="350.9" r="1.7" fill="#000"/>
<circle cx="707" cy="374.6" r="1.7" fill="#000"/>
<line x1="727" y1="304.3" x2="727" y2="374.6" stroke="#000" stroke-width="1.5"/>
<line x1="723.3" y1="304.3" x2="730.7" y2="304.3" stroke="#000" stroke-width="1.5"/>
<line x1="723.3" y1="374.6" x2="730.7" y2="374.6" stroke="#000" stroke-width="1.5"/>
<rect x="720.3" y="315.8" width="13.5" height="35.5" fill="#999999"/>
<line x1="720.3" y1="339.3" x2="733.8" y2="339.3" stroke="#000" stroke-width="2.0"/>
<rect x="724.9" y="334.9" width="4.2" height="3.2" fill="#000"/>
<text transform="translate(235.80,472.60) rotate(0.03) scale(0.97,1)" font-size="20.3" text-anchor="start" fill="#000">E</text>
<rect x="263.4" y="475.5" width="336.30" height="165.90" fill="none" stroke="#2b2b2b" stroke-width="1.15"/>
<line x1="263.4" y1="508.7" x2="268.0" y2="508.7" stroke="#2b2b2b" stroke-width="1.1"/>
<text transform="translate(255.50,512.60) rotate(0.03) scale(1.0,1)" font-size="10.2" text-anchor="middle" fill="#0a0a0a" style="stroke-width:0.12px">8</text>
<line x1="263.4" y1="536.8" x2="268.0" y2="536.8" stroke="#2b2b2b" stroke-width="1.1"/>
<text transform="translate(255.50,540.50) rotate(0.03) scale(1.0,1)" font-size="10.2" text-anchor="middle" fill="#0a0a0a" style="stroke-width:0.12px">6</text>
<line x1="263.4" y1="564.8" x2="268.0" y2="564.8" stroke="#2b2b2b" stroke-width="1.1"/>
<text transform="translate(255.50,568.40) rotate(0.03) scale(1.0,1)" font-size="10.2" text-anchor="middle" fill="#0a0a0a" style="stroke-width:0.12px">4</text>
<line x1="263.4" y1="592.9" x2="268.0" y2="592.9" stroke="#2b2b2b" stroke-width="1.1"/>
<text transform="translate(255.50,596.30) rotate(0.03) scale(1.0,1)" font-size="10.2" text-anchor="middle" fill="#0a0a0a" style="stroke-width:0.12px">2</text>
<line x1="263.4" y1="620.95" x2="268.0" y2="620.95" stroke="#2b2b2b" stroke-width="1.1"/>
<text transform="translate(255.50,624.20) rotate(0.03) scale(1.0,1)" font-size="10.2" text-anchor="middle" fill="#0a0a0a" style="stroke-width:0.12px">0</text>
<line x1="328.0" y1="641.4" x2="328.0" y2="636.8" stroke="#2b2b2b" stroke-width="1.1"/>
<text transform="translate(328.00,653.70) rotate(0.03) scale(1.0,1)" font-size="10.2" text-anchor="middle" fill="#0a0a0a" style="stroke-width:0.12px">0</text>
<line x1="433.3" y1="641.4" x2="433.3" y2="636.8" stroke="#2b2b2b" stroke-width="1.1"/>
<text transform="translate(433.30,653.70) rotate(0.03) scale(1.0,1)" font-size="10.2" text-anchor="middle" fill="#0a0a0a" style="stroke-width:0.12px">1</text>
<line x1="538.5" y1="641.4" x2="538.5" y2="636.8" stroke="#2b2b2b" stroke-width="1.1"/>
<text transform="translate(538.50,653.70) rotate(0.03) scale(1.0,1)" font-size="10.2" text-anchor="middle" fill="#0a0a0a" style="stroke-width:0.12px">12</text>
<text transform="translate(232.8,558) rotate(-90)" font-size="13.5" text-anchor="middle" fill="#0a0a0a" y="4.86">P-VAS Score</text>
<text transform="translate(434.00,671.00) rotate(0.03) scale(0.965,1)" font-size="13.8" text-anchor="middle" fill="#0a0a0a">Week</text>
<circle cx="289.3" cy="508.8" r="1.7" fill="#000"/>
<circle cx="291.8" cy="522.5" r="1.7" fill="#000"/>
<circle cx="288" cy="536.8" r="1.7" fill="#000"/>
<circle cx="286.3" cy="550" r="1.7" fill="#000"/>
<circle cx="288" cy="550" r="1.7" fill="#000"/>
<circle cx="290" cy="550" r="1.7" fill="#000"/>
<circle cx="287.8" cy="564.5" r="1.7" fill="#000"/>
<circle cx="291.3" cy="564.5" r="1.7" fill="#000"/>
<circle cx="287.6" cy="578" r="1.7" fill="#000"/>
<circle cx="291.6" cy="578" r="1.7" fill="#000"/>
<circle cx="289.3" cy="592.5" r="1.7" fill="#000"/>
<circle cx="289.3" cy="620" r="1.7" fill="#000"/>
<line x1="310.5" y1="508.8" x2="310.5" y2="620" stroke="#000" stroke-width="1.5"/>
<line x1="306.8" y1="508.8" x2="314.2" y2="508.8" stroke="#000" stroke-width="1.5"/>
<line x1="306.8" y1="620" x2="314.2" y2="620" stroke="#000" stroke-width="1.5"/>
<rect x="303.3" y="549.6" width="13.699999999999989" height="21.199999999999932" fill="#000"/>
<line x1="303.3" y1="551.2" x2="317" y2="551.2" stroke="#fff" stroke-width="1.3"/>
<rect x="308.4" y="557.1999999999999" width="4.2" height="3.2" fill="#fff"/>
<circle cx="322.5" cy="536.8" r="1.7" fill="#000"/>
<circle cx="327.5" cy="564.5" r="1.7" fill="#000"/>
<circle cx="322.5" cy="592.5" r="1.7" fill="#000"/>
<circle cx="321.8" cy="620" r="1.7" fill="#000"/>
<line x1="345" y1="495" x2="345" y2="619.6" stroke="#000" stroke-width="1.5"/>
<line x1="341.3" y1="495" x2="348.7" y2="495" stroke="#000" stroke-width="1.5"/>
<line x1="341.3" y1="619.6" x2="348.7" y2="619.6" stroke="#000" stroke-width="1.5"/>
<rect x="338.2" y="537" width="13.699999999999989" height="55.5" fill="#999999"/>
<line x1="338.2" y1="564.8" x2="351.9" y2="564.8" stroke="#000" stroke-width="2.0"/>
<rect x="342.9" y="559.6999999999999" width="4.2" height="3.2" fill="#000"/>
<circle cx="394.6" cy="509" r="1.7" fill="#000"/>
<circle cx="393.9" cy="523" r="1.7" fill="#000"/>
<circle cx="395.7" cy="523" r="1.7" fill="#000"/>
<circle cx="391.7" cy="550.3" r="1.7" fill="#000"/>
<circle cx="393.4" cy="550.3" r="1.7" fill="#000"/>
<circle cx="393.9" cy="564.8" r="1.7" fill="#000"/>
<circle cx="396.1" cy="564.8" r="1.7" fill="#000"/>
<circle cx="389.6" cy="578.4" r="1.7" fill="#000"/>
<circle cx="391.7" cy="578.4" r="1.7" fill="#000"/>
<circle cx="390.8" cy="592.5" r="1.7" fill="#000"/>
<circle cx="395" cy="606.3" r="1.7" fill="#000"/>
<circle cx="396.8" cy="606.3" r="1.7" fill="#000"/>
<circle cx="390.1" cy="620.1" r="1.7" fill="#000"/>
<line x1="414.6" y1="509" x2="414.6" y2="619.8" stroke="#000" stroke-width="1.5"/>
<line x1="410.90000000000003" y1="509" x2="418.3" y2="509" stroke="#000" stroke-width="1.5"/>
<line x1="410.90000000000003" y1="619.8" x2="418.3" y2="619.8" stroke="#000" stroke-width="1.5"/>
<rect x="407.3" y="550.7" width="13.899999999999977" height="35.299999999999955" fill="#000"/>
<line x1="407.3" y1="564.4" x2="421.2" y2="564.4" stroke="#fff" stroke-width="1.8"/>
<rect x="412.5" y="564.6" width="4.2" height="3.2" fill="#fff"/>
<circle cx="425.3" cy="508.8" r="1.7" fill="#000"/>
<circle cx="427.8" cy="550" r="1.7" fill="#000"/>
<circle cx="430.3" cy="550" r="1.7" fill="#000"/>
<circle cx="427" cy="578" r="1.7" fill="#000"/>
<circle cx="429.5" cy="606.3" r="1.7" fill="#000"/>
<line x1="449" y1="508.8" x2="449" y2="606.3" stroke="#000" stroke-width="1.5"/>
<line x1="445.3" y1="508.8" x2="452.7" y2="508.8" stroke="#000" stroke-width="1.5"/>
<line x1="445.3" y1="606.3" x2="452.7" y2="606.3" stroke="#000" stroke-width="1.5"/>
<rect x="442.3" y="550" width="13.699999999999989" height="28.299999999999955" fill="#999999"/>
<line x1="442.3" y1="551" x2="456" y2="551" stroke="#000" stroke-width="2.0"/>
<rect x="446.9" y="557.6999999999999" width="4.2" height="3.2" fill="#000"/>
<circle cx="497" cy="522.5" r="1.7" fill="#000"/>
<circle cx="494" cy="536.3" r="1.7" fill="#000"/>
<circle cx="497" cy="536.3" r="1.7" fill="#000"/>
<circle cx="499.8" cy="536.3" r="1.7" fill="#000"/>
<circle cx="494.5" cy="550" r="1.7" fill="#000"/>
<circle cx="494.5" cy="564.5" r="1.7" fill="#000"/>
<circle cx="493.5" cy="578.3" r="1.7" fill="#000"/>
<circle cx="496" cy="578.3" r="1.7" fill="#000"/>
<circle cx="498.3" cy="578.3" r="1.7" fill="#000"/>
<circle cx="500.3" cy="578.3" r="1.7" fill="#000"/>
<circle cx="498.3" cy="592.5" r="1.7" fill="#000"/>
<circle cx="495.8" cy="606.3" r="1.7" fill="#000"/>
<circle cx="496.5" cy="620" r="1.7" fill="#000"/>
<line x1="518.2" y1="523" x2="518.2" y2="620.5" stroke="#000" stroke-width="1.5"/>
<line x1="514.5" y1="523" x2="521.9000000000001" y2="523" stroke="#000" stroke-width="1.5"/>
<line x1="514.5" y1="620.5" x2="521.9000000000001" y2="620.5" stroke="#000" stroke-width="1.5"/>
<rect x="511" y="536.8" width="13.799999999999955" height="41.200000000000045" fill="#000"/>
<rect x="515.6999999999999" y="566.6999999999999" width="4.2" height="3.2" fill="#fff"/>
<line x1="511" y1="578.6" x2="524.8" y2="578.6" stroke="#fff" stroke-width="1.0"/>
<circle cx="528.3" cy="508.3" r="1.7" fill="#000"/>
<circle cx="534.5" cy="565" r="1.7" fill="#000"/>
<circle cx="530.8" cy="578.3" r="1.7" fill="#000"/>
<circle cx="532" cy="592.5" r="1.7" fill="#000"/>
<circle cx="532.8" cy="620" r="1.7" fill="#000"/>
<line x1="552.8" y1="508.8" x2="552.8" y2="620" stroke="#000" stroke-width="1.5"/>
<line x1="549.0999999999999" y1="508.8" x2="556.5" y2="508.8" stroke="#000" stroke-width="1.5"/>
<line x1="549.0999999999999" y1="620" x2="556.5" y2="620" stroke="#000" stroke-width="1.5"/>
<rect x="545.8" y="565" width="13.700000000000045" height="27.5" fill="#999999"/>
<line x1="545.8" y1="578.3" x2="559.5" y2="578.3" stroke="#000" stroke-width="2.0"/>
<rect x="550.6999999999999" y="570.9" width="4.2" height="3.2" fill="#000"/>
</svg>
</body></html>
